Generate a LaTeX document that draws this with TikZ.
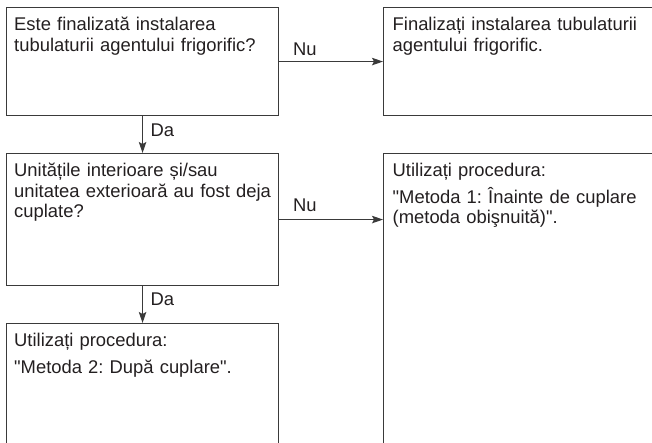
\documentclass[tikz,border=0pt]{standalone}
\usepackage{fontspec}
\newfontfamily\arialf{Liberation Sans}
\usetikzlibrary{arrows.meta,calc}
\definecolor{txt}{HTML}{231F20}
\definecolor{ln}{HTML}{3A3A3A}
\frenchspacing
\begin{document}
\begin{tikzpicture}[x=1pt,y=-1pt,
  box/.style={draw=ln, line width=1.1pt, rectangle, inner sep=0pt, anchor=north west},
  txtnode/.style={text=txt, inner sep=0pt, anchor=base west, text width=262pt, align=left,
    font=\arialf\fontsize{18.4}{20.6}\selectfont\frenchspacing},
  lab/.style={text=txt, inner sep=0pt, anchor=base west, font=\arialf\fontsize{18.4}{20.6}\selectfont},
  arr/.style={draw=ln, line width=1.1pt, -{Stealth[length=11pt,width=7.5pt,inset=2pt]}}]
\useasboundingbox (0,0) rectangle (652,442);
\clip (0,0) rectangle (652,442);
% boxes
\node[box, minimum width=272pt, minimum height=108pt] (b1) at (6,7) {};
\node[box, minimum width=290pt, minimum height=108pt] (b2) at (383,7) {};
\node[box, minimum width=272pt, minimum height=132pt] (b3) at (6,153) {};
\node[box, minimum width=290pt, minimum height=310pt] (b4) at (383,153) {};
\node[box, minimum width=272pt, minimum height=140pt] (b5) at (6,323) {};
% texts
\node[txtnode] (t1) at (14,30.7) {Este finalizată instalarea\\tubulaturii agentului frigorific?};
\node[txtnode] (t2) at (392.5,30.7) {Finalizați instalarea tubulaturii\\agentului frigorific.};
\node[txtnode] (t3) at (14,176.7) {Unitățile interioare și/sau\\unitatea exterioară au fost deja\\cuplate?};
\node[txtnode] (t4) at (392.5,176) {Utilizați procedura:\\[6.5pt]"Metoda 1: Înainte de cuplare\\(metoda obişnuită)".};
\node[txtnode] (t5) at (14,346.7) {Utilizați procedura:\\[6.5pt]"Metoda 2: După cuplare".};
% connectors
\draw[arr] (b1.east) -- (b2.west);
\draw[arr] (b1.south) -- (b3.north);
\draw[arr] (b3.east) -- (b4.west |- b3.east);
\draw[arr] (b3.south) -- (b5.north);
% labels
\node[lab] (nu1) at (293,55) {Nu};
\node[lab] (da1) at (150.5,136.5) {Da};
\node[lab] (nu2) at (293,211.5) {Nu};
\node[lab] (da2) at (150.5,305.5) {Da};
\end{tikzpicture}
\end{document}
